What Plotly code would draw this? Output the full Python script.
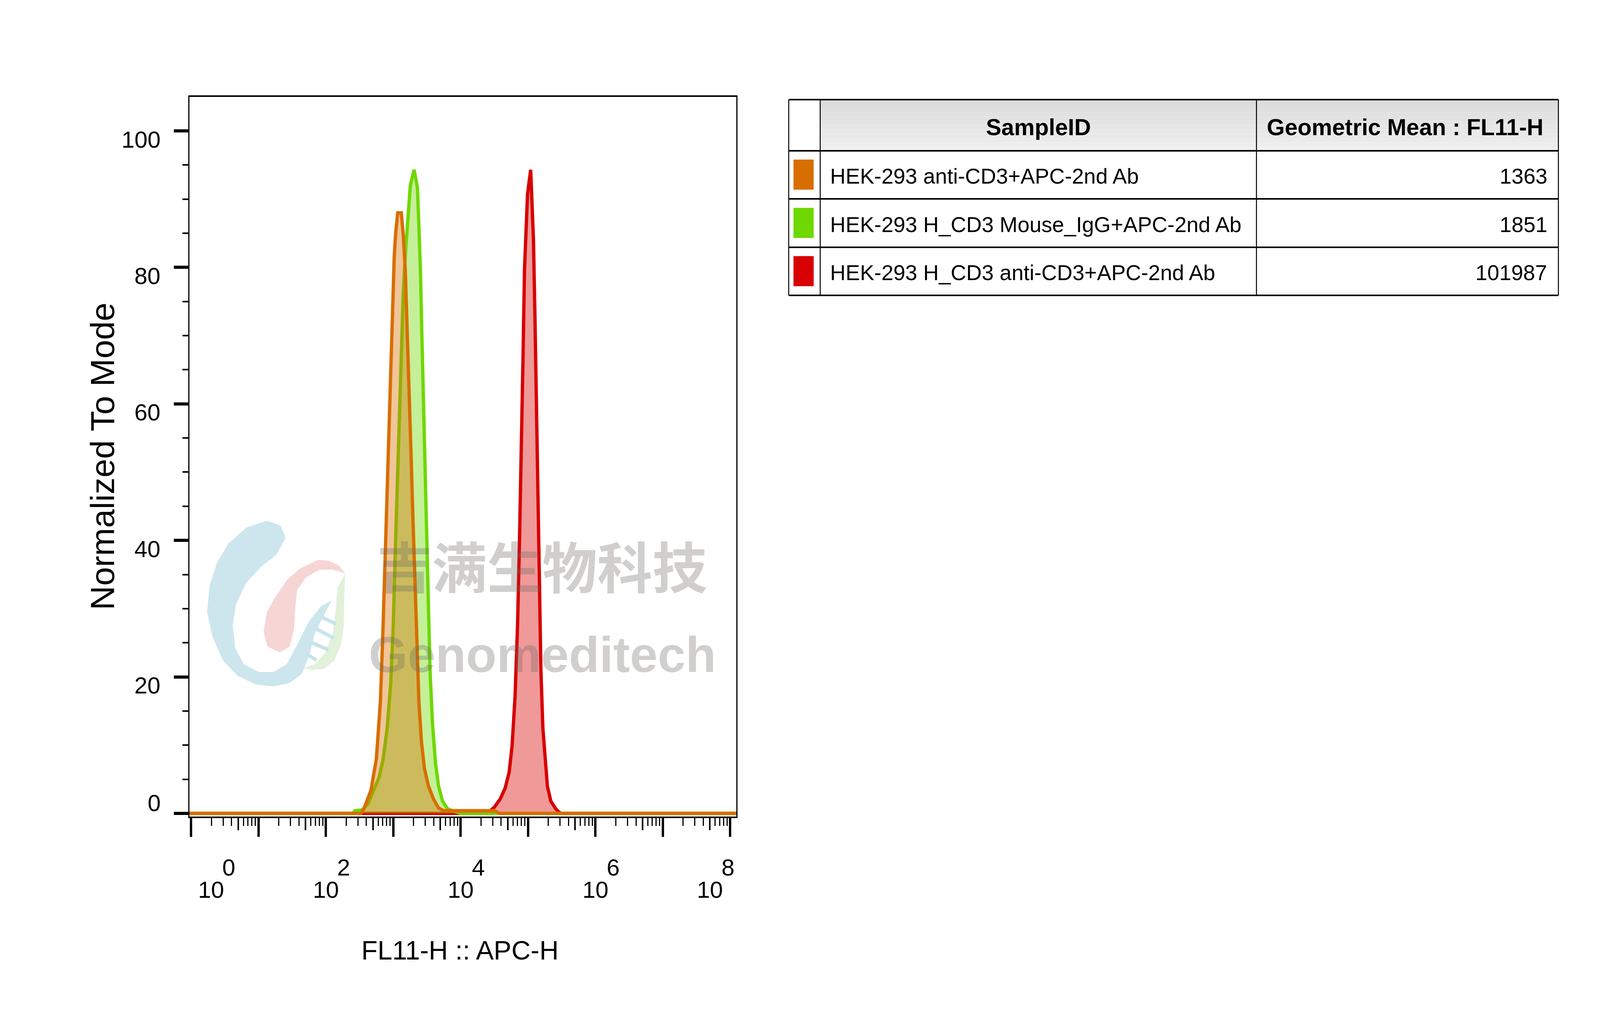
import numpy as np
import plotly.graph_objects as go

# reference picture is 5384x2598; the page we get is only 4096 css px wide,
# so x positions get squeezed by SX and y stays as is
W, H = 5384, 2598
VW, VH = 4096, 2598
SX = VW / W
CW, CH = VW - 16, VH - 16
FONT = "Liberation Sans, Arial, sans-serif"

# histogram outlines: log10(FL11-H) and % of mode
orange_log = [-0.03, 2.52, 2.57, 2.67, 2.75, 2.81, 2.85, 2.89, 2.925, 2.96, 2.99, 3.015, 3.037,
              3.067, 3.12, 3.149, 3.179, 3.202, 3.232, 3.262, 3.291, 3.321, 3.351, 3.381, 3.419,
              3.463, 3.523, 3.598, 3.673, 3.747, 4.50, 4.58, 8.1]
orange_pct = [0, 0, 0.8, 3.4, 8.0, 16.4, 27.5, 40.5, 53.5, 66.6, 76.3, 81.6, 85.1,
              88.0, 88.0, 84.8, 79.6, 73.1, 63.3, 53.5, 43.8, 34.0, 24.2, 16.4, 10.5,
              6.6, 4.0, 2.1, 0.8, 0.4, 0.4, 0, 0]

green_log = [-0.03, 2.40, 2.432, 2.537, 2.626, 2.716, 2.791, 2.851, 2.91, 2.963, 3.0, 3.037,
             3.075, 3.112, 3.149, 3.187, 3.224, 3.254, 3.31, 3.359, 3.381, 3.404, 3.426, 3.448,
             3.471, 3.493, 3.516, 3.546, 3.583, 3.628, 3.673, 3.732, 3.807, 3.897, 4.0, 8.1]
green_pct = [0, 0, 0.4, 0.5, 1.4, 3.4, 5.3, 8.0, 12.5, 19.0, 27.5, 40.5,
             53.5, 66.6, 76.3, 82.9, 88.0, 92.0, 94.3, 91.7, 86.1, 79.6, 69.8, 60.1,
             50.3, 40.5, 30.7, 21.0, 13.2, 7.3, 4.0, 1.8, 0.65, 0.3, 0, 0]

red_log = [-0.03, 4.40, 4.44, 4.50, 4.587, 4.661, 4.72, 4.764, 4.808, 4.845, 4.875, 4.904,
           4.926, 4.948, 4.971, 4.993, 5.04, 5.081, 5.103, 5.125, 5.147, 5.17, 5.192, 5.221,
           5.251, 5.288, 5.339, 5.413, 5.472, 5.5, 8.1]
red_pct = [0, 0, 0.4, 0.9, 2.1, 3.7, 6.0, 9.9, 17.1, 27.5, 40.5, 53.5,
           66.6, 79.6, 86.1, 90.7, 94.3, 84.2, 73.1, 60.1, 47.0, 34.0, 21.0, 12.5,
           8.0, 4.0, 1.8, 0.65, 0.1, 0, 0]

sample_ids = ["HEK-293 anti-CD3+APC-2nd Ab",
              "HEK-293 H_CD3 Mouse_IgG+APC-2nd Ab",
              "HEK-293 H_CD3 anti-CD3+APC-2nd Ab"]
geo_means = ["1363", "1851", "101987"]
colors = ["#d86e00", "#6ed800", "#d80000"]

decades = list(range(0, 9))
exponents = ["0", "2", "4", "6", "8"]
y_ticks = [0, 20, 40, 60, 80, 100]


# picture pixels -> paper fractions
def px(x):
    return (x * SX - 8) / CW


def py(y):
    return 1 - (y - 8) / CH


def rgba(hex_color, a):
    h = hex_color.lstrip('#')
    return 'rgba(%d,%d,%d,%s)' % (int(h[0:2], 16), int(h[2:4], 16), int(h[4:6], 16), a)


fig = go.Figure()

# red first, orange on top (as in the overlay)
curves = [(red_log, red_pct, colors[2]), (green_log, green_pct, colors[1]), (orange_log, orange_pct, colors[0])]
for lg, pct, c in curves:
    fig.add_trace(go.Scatter(x=10 ** np.array(lg), y=pct, mode='lines', fill='tozeroy',
                             fillcolor=rgba(c, 0.4), line=dict(color=c, width=8.5),
                             showlegend=False, hoverinfo='skip'))

# dummy trace so the medium-tick axis gets drawn
fig.add_trace(go.Scatter(x=[1e5], y=[0], xaxis='x2', mode='markers', marker=dict(opacity=0),
                         showlegend=False, hoverinfo='skip'))

xr = [-0.026, 8.093]
minor_vals = [k * 10 ** n for n in range(8) for k in range(2, 10)]
five_vals = [5 * 10 ** n for n in range(8)]

# no fixed size: let the figure fill the page
fig.update_layout(
    autosize=True,
    margin=dict(l=0, r=0, t=0, b=0),
    paper_bgcolor='white', plot_bgcolor='white',
    xaxis=dict(type='log', range=xr, domain=[px(637), px(2478)], showgrid=False, zeroline=False,
               showline=True, linecolor='black', linewidth=4, mirror=True,
               ticks='outside', tickvals=[10 ** d for d in decades], ticklen=48, tickwidth=8 * SX,
               tickcolor='black', showticklabels=False,
               minor=dict(tickvals=minor_vals, ticks='outside', ticklen=20, tickwidth=4 * SX,
                          tickcolor='black', showgrid=False)),
    xaxis2=dict(type='log', range=xr, overlaying='x', anchor='y', side='bottom', showgrid=False,
                zeroline=False, showline=False, ticks='outside', tickvals=five_vals, ticklen=34,
                tickwidth=5 * SX, tickcolor='black', showticklabels=False),
    yaxis=dict(range=[-0.46, 104.98], domain=[py(2090), py(248)], showgrid=False, zeroline=False,
               showline=True, linecolor='black', linewidth=3, mirror=True,
               ticks='outside', tickvals=y_ticks, ticklen=48 * SX, tickwidth=8, tickcolor='black',
               showticklabels=False,
               minor=dict(dtick=5, tick0=0, ticks='outside', ticklen=19 * SX, tickwidth=4,
                          tickcolor='black', showgrid=False)),
)

ann = []
tick_font = dict(family=FONT, size=60, color='black')
# x tick labels: 10 with a raised exponent, edge labels pulled inside
for e in exponents:
    d = int(e)
    shift = 67 if d == decades[0] else (-68 if d == decades[-1] else 0)
    ann.append(dict(x=d, xref='x', y=py(2277), yref='paper', text='10', showarrow=False,
                    xanchor='center', yanchor='middle', xshift=shift * SX, font=tick_font))
    ann.append(dict(x=d, xref='x', y=py(2220), yref='paper', text=e, showarrow=False,
                    xanchor='center', yanchor='middle', xshift=(shift + 60) * SX, font=tick_font))
# y tick labels
for v in y_ticks:
    ann.append(dict(x=px(543), xref='paper', y=v, yref='y', text=str(v), showarrow=False,
                    xanchor='right', yanchor='middle', yshift=26 if v == 0 else -22,
                    font=tick_font))
# axis titles
ann.append(dict(x=px(1548), y=py(2432), xref='paper', yref='paper', text='FL11-H :: APC-H',
                showarrow=False, xanchor='center', yanchor='middle',
                font=dict(family=FONT, size=68, color='black')))
ann.append(dict(x=px(345), y=py(1168), xref='paper', yref='paper', text='Normalized To Mode',
                showarrow=False, textangle=-90, xanchor='center', yanchor='middle',
                font=dict(family=FONT, size=86, color='black')))

# watermark
wm = 'rgba(110,105,100,0.32)'
ann.append(dict(x=px(1824), y=py(1444), xref='paper', yref='paper', text='<b>吉满生物科技</b>',
                showarrow=False, xanchor='center', yanchor='middle',
                font=dict(family='Noto Sans CJK SC', size=141, color=wm)))
ann.append(dict(x=px(1825), y=py(1675), xref='paper', yref='paper', text='<b>Genomeditech</b>',
                showarrow=False, xanchor='center', yanchor='middle',
                font=dict(family=FONT, size=128, color=wm)))

shapes = []


def poly(points, color):
    path = 'M ' + ' L '.join('%f,%f' % (px(x), py(y)) for x, y in points) + ' Z'
    return dict(type='path', path=path, xref='paper', yref='paper', fillcolor=color,
                line=dict(width=0), layer='below')


# logo, roughly
shapes.append(poly([(898, 1333), (944, 1345), (961, 1377), (930, 1420), (880, 1450), (830, 1490),
                    (795, 1545), (783, 1600), (792, 1660), (820, 1700), (870, 1720), (921, 1720),
                    (965, 1700), (1000, 1650), (1040, 1590), (1080, 1552), (1116, 1537),
                    (1090, 1575), (1060, 1620), (1040, 1680), (1015, 1725), (975, 1748),
                    (920, 1757), (860, 1752), (800, 1730), (750, 1690), (715, 1630), (697, 1567),
                    (705, 1500), (730, 1440), (770, 1390), (830, 1350)], '#cde6ee'))
shapes.append(poly([(1070, 1433), (1010, 1455), (967, 1483), (925, 1530), (898, 1567), (887, 1617),
                    (900, 1655), (942, 1670), (975, 1655), (990, 1610), (993, 1560), (1000, 1510),
                    (1030, 1478), (1075, 1458), (1120, 1458), (1162, 1468), (1139, 1447),
                    (1105, 1435)], '#f6d6d4'))
shapes.append(poly([(1162, 1468), (1158, 1530), (1157, 1600), (1148, 1650), (1125, 1690),
                    (1090, 1712), (1047, 1715), (1020, 1710), (1060, 1700), (1095, 1670),
                    (1120, 1620), (1130, 1560), (1135, 1505)], '#e2f1d9'))
for x0, y0, x1, y1 in [(1076, 1577, 1130, 1597), (1065, 1610, 1122, 1633),
                       (1042, 1643, 1105, 1663), (1030, 1673, 1065, 1690)]:
    shapes.append(dict(type='line', x0=px(x0), x1=px(x1), y0=py(y0), y1=py(y1), xref='paper',
                       yref='paper', line=dict(color='#c6e4ee', width=9), layer='below'))

# stats table on the right
tx = [2654, 2760, 4228, 5244]
ty = [255, 386, 509, 633, 756]
bands = 12
for i in range(bands):
    g = int(220 + (239 - 220) * i / (bands - 1))
    y0 = ty[0] + (ty[1] - ty[0]) * i / bands
    y1 = ty[0] + (ty[1] - ty[0]) * (i + 1) / bands
    shapes.append(dict(type='rect', x0=px(tx[1]), x1=px(tx[3]), y0=py(y1), y1=py(y0),
                       xref='paper', yref='paper', fillcolor='rgb(%d,%d,%d)' % (g, g, g),
                       line=dict(width=0)))
for y in ty:
    shapes.append(dict(type='line', x0=px(tx[0]), x1=px(tx[3]), y0=py(y), y1=py(y),
                       xref='paper', yref='paper', line=dict(color='black', width=4)))
for x in tx:
    shapes.append(dict(type='line', x0=px(x), x1=px(x), y0=py(ty[0]), y1=py(ty[-1]),
                       xref='paper', yref='paper', line=dict(color='black', width=2.5)))

head_font = dict(family=FONT, size=59, color='black')
ann.append(dict(x=px((tx[1] + tx[2]) / 2), y=py(326), xref='paper', yref='paper',
                text='<b>SampleID</b>', showarrow=False, xanchor='center', yanchor='middle',
                font=head_font))
ann.append(dict(x=px(4728), y=py(326), xref='paper', yref='paper',
                text='<b>Geometric Mean : FL11-H</b>', showarrow=False, xanchor='center',
                yanchor='middle', font=head_font))

row_font = dict(family=FONT, size=55, color='black')
for i, (name, gm, c) in enumerate(zip(sample_ids, geo_means, colors)):
    mid = (ty[i + 1] + ty[i + 2]) / 2
    shapes.append(dict(type='rect', x0=px(2670), x1=px(2738), y0=py(mid + 38), y1=py(mid - 39),
                       xref='paper', yref='paper', fillcolor=c, line=dict(width=0)))
    ann.append(dict(x=px(2790), y=py(mid + 4), xref='paper', yref='paper', text=name,
                    showarrow=False, xanchor='left', yanchor='middle', font=row_font))
    ann.append(dict(x=px(5209), y=py(mid + 4), xref='paper', yref='paper', text=gm,
                    showarrow=False, xanchor='right', yanchor='middle', font=row_font))

fig.update_layout(annotations=ann, shapes=shapes)

fig.write_html("out.html")
